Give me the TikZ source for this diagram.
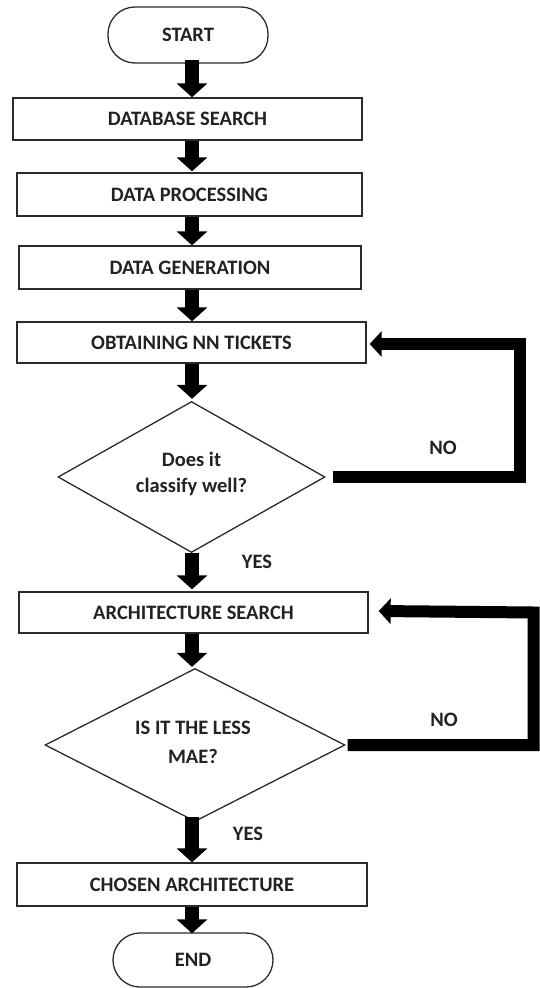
\documentclass[tikz,border=0pt]{standalone}
\usepackage{fontspec}
\setmainfont{Carlito}
\usetikzlibrary{arrows.meta,shapes.geometric}
\definecolor{ink}{HTML}{222222}
\definecolor{edge}{HTML}{2A2A2A}
\tikzset{
  lbl/.style={font=\fontsize{20.5}{26}\selectfont\bfseries, text=ink},
  procbox/.style={draw=edge, line width=1.3pt, rectangle, inner sep=0pt, lbl},
  termbox/.style={draw=edge, line width=1.3pt, rectangle, rounded corners=27pt, inner sep=0pt, minimum width=160pt, lbl},
  decbox/.style={draw=edge, line width=1.3pt, diamond, inner sep=0pt},
  dectext/.style={align=center, lbl},
  blk/.style={line width=14pt, black, -{Triangle[width=30pt,length=14pt]}},
  fb/.style={line width=12pt, black, line join=miter, -{Triangle[width=25pt,length=12pt]}},
}
\begin{document}
\begin{tikzpicture}[x=1pt,y=-1pt]
\useasboundingbox (0,0) rectangle (539,988);
\coordinate (ax) at (192,0);
\coordinate (r1) at (520,0);
\coordinate (r2) at (533.5,0);

\node[termbox, minimum height=56pt] (start) at (188,35) {START};
\node[procbox, minimum width=349pt, minimum height=42pt] (db) at (187.5,119) {DATABASE SEARCH};
\node[procbox, minimum width=345pt, minimum height=43pt] (dp) at (189.5,194.5) {DATA PROCESSING};
\node[procbox, minimum width=342pt, minimum height=43pt] (dg) at (190,267.5) {DATA GENERATION};
\node[procbox, minimum width=349pt, minimum height=41pt] (obt) at (191.5,342.5) {OBTAINING NN TICKETS};
\node[decbox, minimum width=267pt, minimum height=151pt] (d1) at (191.5,477) {};
\node[dectext] (d1t) at (191.5,474) {Does it\\classify well?};
\node[procbox, minimum width=349pt, minimum height=41pt] (arch) at (193.5,612.5) {ARCHITECTURE SEARCH};
\node[decbox, minimum width=300pt, minimum height=153pt] (d2) at (195,745) {};
\node[dectext] (d2t) at (193,742.5) {IS IT THE LESS\\[3pt]MAE?};
\node[procbox, minimum width=350pt, minimum height=43pt] (chosen) at (192,884.5) {CHOSEN ARCHITECTURE};
\node[termbox, minimum height=54pt] (end) at (193,960) {END};

\node[lbl] (yes1) at (257,562) {YES};
\node[lbl] (yes2) at (248,834) {YES};
\node[lbl] (no1) at (443,448) {NO};
\node[lbl] (no2) at (444,720) {NO};

\draw[blk] ([yshift=4pt]start.south -| ax) -- (db.north -| ax);
\draw[blk] (db.south -| ax) -- ([yshift=1pt]dp.north -| ax);
\draw[blk] (dp.south -| ax) -- (dg.north -| ax);
\draw[blk] (dg.south -| ax) -- (obt.north -| ax);
\draw[blk] (obt.south -| ax) -- ([yshift=2pt]d1.north -| ax);
\draw[blk] (d1.south -| ax) -- ([yshift=2pt]arch.north -| ax);
\draw[blk] (arch.south -| ax) -- ([yshift=1pt]d2.north -| ax);
\draw[blk] ([yshift=5pt]d2.south -| ax) -- (chosen.north -| ax);
\draw[blk] (chosen.south -| ax) -- ([yshift=-1pt]end.north -| ax);

\draw[fb] ([xshift=7pt]d1.east) -| ([yshift=-1.5pt]r1 |- obt.east) -- ([xshift=3pt,yshift=-1.5pt]obt.east);
\draw[fb] ([xshift=2pt]d2.east) -| (r2 |- arch.east) -- ([xshift=10pt,yshift=1.5pt]arch.east);
\end{tikzpicture}
\end{document}
